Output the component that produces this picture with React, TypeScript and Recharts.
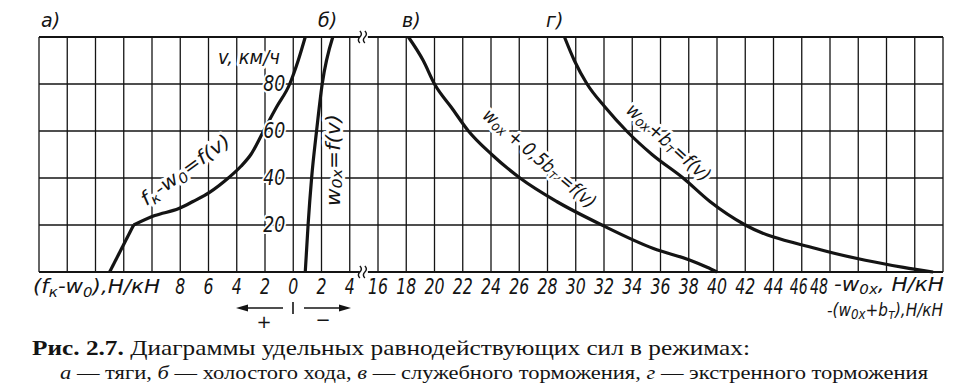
import React from "react";
import { LineChart, Line, XAxis, YAxis, CartesianGrid, ReferenceLine, ReferenceDot } from "recharts";

// speeds, km/h
const speedsTraction = [0, 20, 24, 27, 30, 34, 40, 45, 50, 60, 70, 80, 90, 100];
// (f_k - w_0), N/kN  (plotted to the left of zero)
const tractionForce = [13.0, 11.3, 9.8, 8.1, 7.1, 5.9, 4.6, 3.7, 3.0, 2.1, 1.2, 0.25, -0.35, -0.85];

const speedsIdle = [0, 20, 40, 60, 80, 100];
// w_0x, N/kN (to the right of zero)
const idleResistance = [0.85, 1.05, 1.3, 1.65, 2.05, 2.8];

const speedsBraking = [0, 2, 5, 10, 20, 30, 40, 50, 60, 70, 80, 90, 100];
// w_0x + 0.5 b_T and w_0x + b_T, N/kN (right part of the broken axis)
const serviceBraking = [40.0, 39.3, 38.1, 35.5, 31.85, 28.65, 26.05, 24.05, 22.4, 21.2, 20.0, 19.2, 18.15];
const emergencyBraking = [55.3, 53.2, 50.5, 47.0, 42.0, 39.5, 37.6, 35.4, 33.6, 32.1, 30.8, 29.9, 29.2];

const speedTicks = [0, 20, 40, 60, 80, 100];
const speedLabels = [20, 40, 60, 80];
// axis positions: left of zero = traction, 0..4 = idle, then axis break (16 sits at 6)
const forceTicks = [-18, -16, -14, -12, -10, -8, -6, -4, -2, 0, 2, 4, 6, 8, 10, 12, 14, 16, 18, 20, 22, 24, 26, 28, 30, 32, 34, 36, 38, 40, 42, 44, 46];
const BREAK_SHIFT = 10;

const W = 962;
const H = 388;
const PLOT_LEFT = 39;
const PLOT_RIGHT = 943;
const PLOT_TOP = 37;
const PLOT_BOTTOM = 272;
const X_MIN = -18;
const X_MAX = 46;
const zeroX = PLOT_LEFT + ((0 - X_MIN) / (X_MAX - X_MIN)) * (PLOT_RIGHT - PLOT_LEFT);
const speedY = (v: number) => PLOT_BOTTOM - (v / 100) * (PLOT_BOTTOM - PLOT_TOP);

const tractionLow = speedsTraction
  .map((v, i) => ({ v, d: -tractionForce[i] }))
  .filter((p) => p.v <= 20);
const tractionHigh = speedsTraction
  .map((v, i) => ({ v, d: -tractionForce[i] }))
  .filter((p) => p.v >= 20);
const idle = speedsIdle.map((v, i) => ({ v, d: idleResistance[i] }));
const service = speedsBraking
  .map((v, i) => ({ v, d: serviceBraking[i] - BREAK_SHIFT }))
  .reverse();
const emergency = speedsBraking
  .map((v, i) => ({ v, d: emergencyBraking[i] - BREAK_SHIFT }))
  .reverse();

const INK = "#141414";
const drafting = {
  fontFamily: '"DejaVu Sans", sans-serif',
  fontStyle: "italic" as const,
  fontSize: 19,
  fill: INK,
};
const halo = {
  paintOrder: "stroke" as const,
  stroke: "#fff",
  strokeWidth: 6,
  strokeLinejoin: "round" as const,
};

const tickLabel = (d: number) => {
  if (d < -8 || d > 38) return "";
  if (d <= 0) return String(-d);
  if (d <= 4) return String(d);
  return String(d + BREAK_SHIFT);
};

// the last two labels are squeezed in front of the axis title, as in the original
const tickShift: Record<number, number> = { 36: -3, 38: -11 };

const ForceTick = (props: any) => {
  const { x, payload } = props;
  const label = tickLabel(payload.value);
  if (!label) return <g />;
  const dx = tickShift[payload.value] ?? 0;
  const per = dx ? 9 : 10;
  return (
    <text
      x={x + dx}
      y={PLOT_BOTTOM + 22}
      textAnchor="middle"
      textLength={label.length * per}
      lengthAdjust="spacingAndGlyphs"
      style={{ ...drafting, fontSize: 21 }}
    >
      {label}
    </text>
  );
};

const BreakMark = (props: any) => {
  const { cx, cy } = props;
  return (
    <g>
      <rect x={cx - 4} y={cy - 2} width={8} height={4} fill="#fff" />
      {[-2.5, 2.5].map((o) => (
        <path
          key={o}
          d={`M${cx + o - 1.5},${cy - 6} q3,3 0,6 q-3,3 0,6`}
          fill="none"
          stroke={INK}
          strokeWidth={1.4}
        />
      ))}
    </g>
  );
};

// subscript: drop, then come back to the baseline
const Sub = ({ children, drop = 4 }: { children: React.ReactNode; drop?: number }) => (
  <tspan dy={drop} fontSize={14}>
    {children}
  </tspan>
);
const Up = ({ children, rise = 4 }: { children: React.ReactNode; rise?: number }) => (
  <tspan dy={-rise}>{children}</tspan>
);

const serif = { fontFamily: '"Liberation Serif", "DejaVu Serif", serif', fill: INK };

export default function App() {
  const curve = { stroke: INK, strokeWidth: 3.2, dot: false, isAnimationActive: false, activeDot: false } as const;
  return (
    <div style={{ position: "absolute", left: 0, top: 0, width: W, height: H, background: "#fff" }}>
      <LineChart
        width={W}
        height={H}
        margin={{ top: PLOT_TOP, right: W - PLOT_RIGHT, left: PLOT_LEFT, bottom: H - PLOT_BOTTOM - 30 }}
      >
        <CartesianGrid stroke={INK} strokeWidth={1.3} />
        <XAxis
          type="number"
          dataKey="d"
          domain={[X_MIN, X_MAX]}
          ticks={forceTicks}
          allowDataOverflow
          height={30}
          axisLine={false}
          tickLine={false}
          interval={0}
          tick={(p: any) => <ForceTick {...p} />}
        />
        <YAxis
          type="number"
          domain={[0, 100]}
          ticks={speedTicks}
          width={0}
          axisLine={false}
          tickLine={false}
          interval={0}
          tick={() => <g />}
        />
        <ReferenceLine y={0} stroke={INK} strokeWidth={2.2} />
        <ReferenceLine y={100} stroke={INK} strokeWidth={2.2} />
        <ReferenceDot x={5} y={100} r={0} shape={(p: any) => <BreakMark {...p} />} ifOverflow="visible" />
        <ReferenceDot x={5} y={0} r={0} shape={(p: any) => <BreakMark {...p} />} ifOverflow="visible" />
        <Line data={tractionLow} dataKey="v" type="linear" {...curve} />
        <Line data={tractionHigh} dataKey="v" type="monotone" {...curve} />
        <Line data={idle} dataKey="v" type="monotone" {...curve} />
        <Line data={service} dataKey="v" type="monotone" {...curve} />
        <Line data={emergency} dataKey="v" type="monotone" {...curve} />
      </LineChart>

      <svg width={W} height={H} style={{ position: "absolute", left: 0, top: 0, pointerEvents: "none" }}>
        <text x={41} y={27} style={drafting}>а)</text>
        <text x={318} y={27} style={drafting}>б)</text>
        <text x={402} y={27} style={drafting}>в)</text>
        <text x={546} y={27} style={drafting}>г)</text>

        {speedLabels.map((v) => (
          <text
            key={v}
            x={zeroX - 8}
            y={speedY(v) + 7}
            textAnchor="end"
            textLength={22}
            lengthAdjust="spacingAndGlyphs"
            style={{ ...drafting, fontSize: 21, ...halo, strokeWidth: 4 }}
          >
            {v}
          </text>
        ))}
        <text x={218} y={64} textLength={62} lengthAdjust="spacingAndGlyphs" style={{ ...drafting, ...halo }}>
          v, км/ч
        </text>

        <text
          transform="translate(189,175) rotate(-36)"
          textAnchor="middle"
          textLength={106}
          lengthAdjust="spacingAndGlyphs"
          style={{ ...drafting, ...halo }}
        >
          f<Sub>к</Sub>
          <Up>-w</Up>
          <Sub>0</Sub>
          <Up>=f(v)</Up>
        </text>
        <text
          transform="translate(333,160) rotate(-90)"
          textAnchor="middle"
          dominantBaseline="central"
          textLength={92}
          lengthAdjust="spacingAndGlyphs"
          style={{ ...drafting, ...halo }}
        >
          w<Sub>0x</Sub>
          <Up>=f(v)</Up>
        </text>
        <text
          transform="translate(540,158) rotate(40.5)"
          textAnchor="middle"
          dominantBaseline="central"
          textLength={142}
          lengthAdjust="spacingAndGlyphs"
          style={{ ...drafting, ...halo }}
        >
          w<Sub>ox</Sub>
          <Up> + 0,5b</Up>
          <Sub>т</Sub>
          <Up> =f(v)</Up>
        </text>
        <text
          transform="translate(669,142) rotate(42)"
          textAnchor="middle"
          dominantBaseline="central"
          textLength={106}
          lengthAdjust="spacingAndGlyphs"
          style={{ ...drafting, ...halo }}
        >
          w<Sub>ox</Sub>
          <Up>+b</Up>
          <Sub>т</Sub>
          <Up>=f(v)</Up>
        </text>

        <text x={33} y={293} textLength={127} lengthAdjust="spacingAndGlyphs" style={{ ...drafting, fontSize: 20 }}>
          (f<Sub>к</Sub>
          <Up>-w</Up>
          <Sub>0</Sub>
          <Up>),Н/кН</Up>
        </text>
        <text x={834} y={291} textLength={110} lengthAdjust="spacingAndGlyphs" style={{ ...drafting, fontSize: 20 }}>
          -w<Sub drop={3}>0x</Sub>
          <Up rise={3}>, Н/кН</Up>
        </text>
        <text x={827} y={316} textLength={116} lengthAdjust="spacingAndGlyphs" style={{ ...drafting, fontSize: 18 }}>
          -(w<Sub drop={3}>0x</Sub>
          <Up rise={3}>+b</Up>
          <Sub drop={3}>т</Sub>
          <Up rise={3}>),Н/кН</Up>
        </text>

        <line x1={243} y1={308} x2={283} y2={308} stroke={INK} strokeWidth={1.6} />
        <path d="M236,308 L248,304.5 L248,311.5 Z" fill={INK} />
        <line x1={293} y1={302} x2={293} y2={314} stroke={INK} strokeWidth={1.6} />
        <line x1={304} y1={308} x2={344} y2={308} stroke={INK} strokeWidth={1.6} />
        <path d="M351,308 L339,304.5 L339,311.5 Z" fill={INK} />
        <text x={264} y={328} textAnchor="middle" style={{ ...drafting, fontStyle: "normal", fontSize: 18 }}>+</text>
        <text x={323} y={326} textAnchor="middle" style={{ ...drafting, fontStyle: "normal", fontSize: 18 }}>−</text>

        <text x={32} y={355} textLength={718} lengthAdjust="spacingAndGlyphs" style={{ ...serif, fontSize: 22 }}>
          <tspan fontWeight="bold">Рис. 2.7.</tspan> Диаграммы удельных равнодействующих сил в режимах:
        </text>
        <text x={60} y={379} textLength={868} lengthAdjust="spacingAndGlyphs" style={{ ...serif, fontSize: 19 }}>
          <tspan fontStyle="italic">а</tspan> — тяги, <tspan fontStyle="italic">б</tspan> — холостого хода,{" "}
          <tspan fontStyle="italic">в</tspan> — служебного торможения, <tspan fontStyle="italic">г</tspan> — экстренного
          торможения
        </text>
      </svg>
    </div>
  );
}
